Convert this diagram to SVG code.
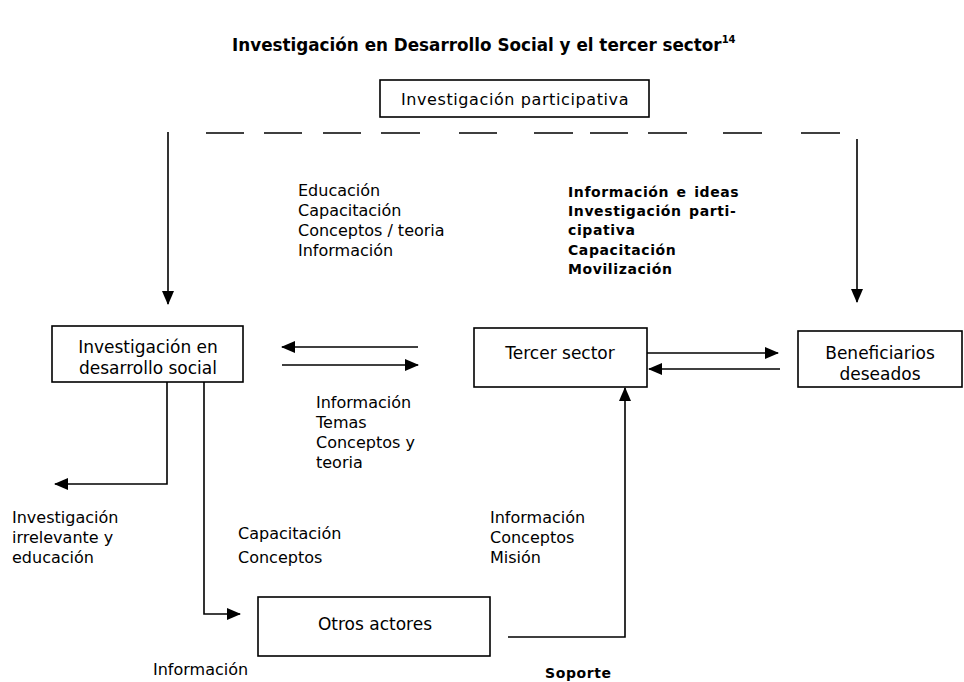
<svg xmlns="http://www.w3.org/2000/svg" width="964" height="682" viewBox="0 0 964 682">
<style>
.box{fill:#fff;stroke:#000;stroke-width:1.6}
.t{font-family:"DejaVu Sans","Liberation Sans",sans-serif;font-size:16px;fill:#000}
.n{font-size:17px}
.c{text-anchor:middle}
.b{font-weight:bold;font-size:14px;letter-spacing:0.6px;word-spacing:2px}
.ln{fill:none;stroke:#000;stroke-width:1.6}
</style>
<defs>
<marker id="ah" markerUnits="userSpaceOnUse" markerWidth="14" markerHeight="14" refX="13" refY="7" orient="auto"><path d="M0,1 L14,7 L0,13 z" fill="#000"/></marker>
</defs>
<rect width="964" height="682" fill="#fff"/>
<text class="t" x="232" y="51" style="font-weight:bold;font-size:16.8px">Investigación en Desarrollo Social y el tercer sector<tspan dy="-8" font-size="10">14</tspan></text>

<g id="connectors">
<path class="ln" d="M206,133H244 M264,133H302 M323,133H361 M381,133H420 M459,133H497 M534,133H573 M590,133H628 M648,133H687 M723,133H762 M801,133H840"/>
<path class="ln" d="M168,132 V304" marker-end="url(#ah)"/>
<path class="ln" d="M857,139 V302" marker-end="url(#ah)"/>
<path class="ln" d="M418,347 H282" marker-end="url(#ah)"/>
<path class="ln" d="M282,365 H418" marker-end="url(#ah)"/>
<path class="ln" d="M647,353 H778" marker-end="url(#ah)"/>
<path class="ln" d="M780,369 H649" marker-end="url(#ah)"/>
<path class="ln" d="M167,382 V484 H55" marker-end="url(#ah)"/>
<path class="ln" d="M204,382 V614 H240" marker-end="url(#ah)"/>
<path class="ln" d="M508,637 H625 V388" marker-end="url(#ah)"/>
</g>

<g id="n-participativa">
<rect class="box" x="380" y="80" width="269" height="37"/>
<text class="t c" x="515" y="105" font-size="18" letter-spacing="0.6">Investigación participativa</text>
</g>
<g id="n-ids">
<rect class="box" x="52" y="326" width="191" height="56"/>
<text class="t n c" x="148" y="353">Investigación en</text>
<text class="t n c" x="148" y="374">desarrollo social</text>
</g>
<g id="n-tercer">
<rect class="box" x="474" y="328" width="173" height="59"/>
<text class="t n c" x="560" y="359">Tercer sector</text>
</g>
<g id="n-benef">
<rect class="box" x="798" y="331" width="164" height="56"/>
<text class="t n c" x="880" y="359">Beneficiarios</text>
<text class="t n c" x="880" y="380">deseados</text>
</g>
<g id="n-otros">
<rect class="box" x="258" y="597" width="232" height="59"/>
<text class="t n c" x="375" y="630">Otros actores</text>
</g>

<g id="labels">
<text class="t" x="298" y="196">Educación</text>
<text class="t" x="298" y="216">Capacitación</text>
<text class="t" x="298" y="236">Conceptos / teoria</text>
<text class="t" x="298" y="256">Información</text>
<text class="t b" x="568" y="197">Información e ideas</text>
<text class="t b" x="568" y="216">Investigación parti-</text>
<text class="t b" x="568" y="235">cipativa</text>
<text class="t b" x="568" y="255">Capacitación</text>
<text class="t b" x="568" y="274">Movilización</text>
<text class="t" x="316" y="408">Información</text>
<text class="t" x="316" y="428">Temas</text>
<text class="t" x="316" y="448">Conceptos y</text>
<text class="t" x="316" y="468">teoria</text>
<text class="t" x="12" y="523">Investigación</text>
<text class="t" x="12" y="543">irrelevante y</text>
<text class="t" x="12" y="563">educación</text>
<text class="t" x="238" y="539">Capacitación</text>
<text class="t" x="238" y="563">Conceptos</text>
<text class="t" x="490" y="523">Información</text>
<text class="t" x="490" y="543">Conceptos</text>
<text class="t" x="490" y="563">Misión</text>
<text class="t" x="153" y="675" font-size="11.5">Información</text>
<text class="t b" x="545" y="678" font-size="11.5" letter-spacing="0">Soporte</text>
</g>
</svg>
